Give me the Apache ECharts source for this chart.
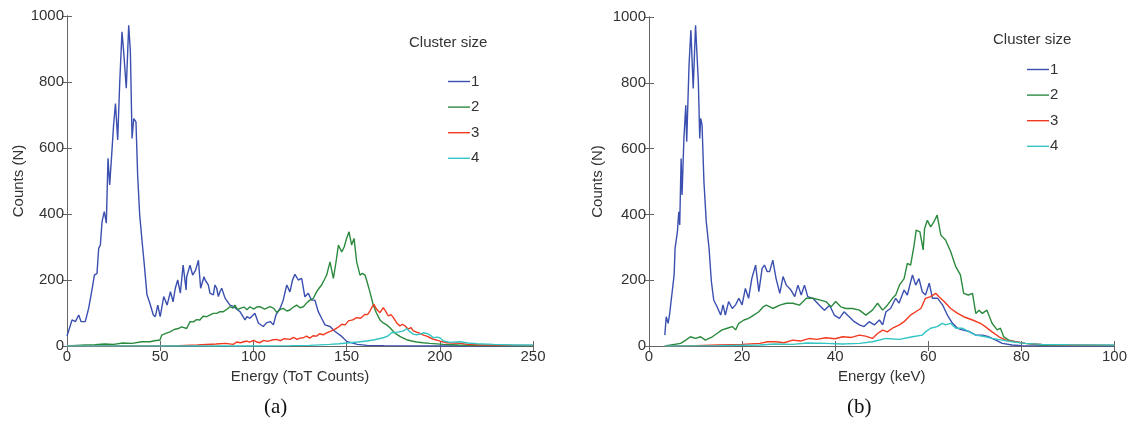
<!DOCTYPE html>
<html>
<head>
<meta charset="utf-8">
<script src="https://cdn.jsdelivr.net/npm/echarts@6/dist/echarts.min.js"></script>
<style>
html,body{margin:0;padding:0;background:#fff;}
#c{width:1130px;height:425px;}
</style>
</head>
<body>
<div id="c"></div>
<script>
// ---------- DATA ----------
const seriesNames = ['1', '2', '3', '4'];
const leftXTicks = [0, 50, 100, 150, 200, 250];
const rightXTicks = [0, 20, 40, 60, 80, 100];
const yTicks = [0, 200, 400, 600, 800, 1000];

// (a) Energy in ToT counts
const leftBlueX = [0,0.9,2.7,4.5,6.3,7.5,9.8,11.6,13.4,14.7,16.1,17,17.9,18.8,20,21.1,22,22.9,24.2,25,26,27.2,28.3,29.5,30.4,31.8,33.1,34,34.9,35.8,37,37.9,39,40.3,41.5,42.9,44.5,46.3,47.4,48.7,50,51.9,53.7,55.5,56.9,58.1,59.4,60.8,62.3,63.9,64.2,66,67.4,69,70.5,71.7,73.5,74.1,75.8,76.7,78.5,79.4,80.3,81.2,82.1,83,84.8,85.7,87.4,89.3,90.1,92.8,95.5,96.5,98.2,100.8,102.7,103.5,105.3,107,108,109,110.7,112.1,114.3,116,117.9,119.6,121,122.3,124.1,125.9,127.6,129.4,131.2,133,134.8,136.6,138.4,141.1,143.8,147.4,150,155.7,161,170,200,250];
const leftBlueY = [30,33,79,74,94,74,74,114,170,215,220,296,306,377,407,372,569,488,599,670,735,624,801,952,892,781,972,892,629,689,679,518,397,316,245,155,129,94,89,124,89,150,124,165,134,175,200,160,245,170,210,245,215,230,260,175,210,200,185,160,155,185,175,150,165,175,145,140,124,120,119,104,79,89,84,99,69,69,59,70,69,74,64,94,114,139,185,164,200,217,200,205,149,160,139,139,104,84,64,59,44,29,14,5,2,1,0,0];

const leftGreenX = [0,5,10,15,20,25,30,35,40,44.5,47,49.9,50.8,53,55.3,57.5,59.7,61.5,62.4,64.2,66,67.8,69.5,71.3,73,74.9,75.8,78.5,80.3,82.1,83.9,86,87.4,89,90.1,91.5,92.8,95,96.5,98.2,100,101.8,103.5,106,108.9,110.9,112.5,114.2,116,118,119.6,121.5,123.2,125,126.8,128.5,130.3,132.1,133.9,135.2,136.6,138,139.3,141.1,142.9,144.2,145.6,147.4,148.7,150,151.3,152.7,154,155.4,157.2,158.5,159.9,161.2,162.5,164.3,166,167.9,169.7,171.5,173.3,175.1,176.9,178.6,180.4,182.2,184.9,187.6,191,194.7,201.9,210,225,250];
const leftGreenY = [0,2,3,4,6,5,9,8,13,13,16,18,33,38,43,50,53,58,64,53,74,73,80,79,90,89,94,99,99,104,104,112,119,115,124,110,114,118,110,119,112,118,119,112,119,114,102,110,114,106,109,118,124,116,119,130,139,144,164,175,185,200,215,255,205,250,306,285,300,326,346,306,326,255,215,220,215,190,164,124,100,79,70,64,55,44,35,29,24,19,15,12,10,8,5,3,1,0];

const leftRedX = [0,40,60,70,80,85,89.2,91,93,96.4,98,100,101.5,103.5,105.5,107.5,110,111,112.5,114.5,116.5,119.6,121.5,123.5,125,126.8,128.5,130.3,132,133.9,135.5,137.4,139.3,141.5,143.8,145.5,147.4,149.2,151,153.3,155.4,157.5,159.9,161.2,162.5,163.6,164.7,165.3,166.1,167.9,169.7,171,172.4,173.8,175.1,176.9,178.6,180,181.3,183.1,184.5,185.8,187.6,189.4,191.2,193,194.8,196.6,198.4,200.1,202,203.7,207,211,215,220,230,240,250];
const leftRedY = [0,0,1,3,6,8,5,12,10,15,12,17,13,10,17,14,18,23,20,16,22,20,26,20,24,25,30,24,31,30,37,34,40,45,51,57,66,64,76,79,86,84,96,95,106,118,126,131,111,101,116,105,91,95,86,70,61,66,61,51,56,46,42,38,33,30,25,20,18,15,12,10,9,8,5,4,3,2,1];

const leftCyanX = [0,100,120,130,141,146,151.8,156,160.8,165,169.7,172,174.2,175.1,177.5,180.5,182.3,183.5,185.8,187.6,189.4,191.2,193,194.8,196.6,198.5,200,202,205.5,210.8,215,220,228.7,240,250];
const leftCyanY = [0,0,1,2,5,7,10,12,15,19,25,30,40,36,42,46,53,45,36,34,36,40,38,33,25,27,25,15,11,13,9,7,5,3,3];

// (b) Energy in keV
const rightBlueX = [3.4,3.7,4.1,4.4,4.9,5.4,5.6,6.1,6.4,6.6,6.9,7.1,7.5,7.9,8.1,8.6,9,9.5,10,10.6,10.9,11.1,11.4,11.8,12.3,12.9,13.4,13.9,14.6,15.4,15.9,16.4,17.1,17.9,18.6,19.3,20,20.7,21.4,22.1,22.9,23.6,24.3,24.8,25.4,25.9,26.6,27.3,28.1,28.8,29.5,30.5,31.3,32,32.7,33.4,34.1,35.2,36.6,37.7,38.8,39.8,40.9,41.9,43,44.1,45.2,46.2,47.3,48.4,49.5,50.2,50.9,51.9,53,53.7,54.8,55.5,56.6,57.3,58,58.7,59.4,60.2,60.9,62,63.1,64.1,65.2,66.3,67.3,68.8,70.2,71.6,73,74.5,75.9,78,80,85,100];
const rightBlueY = [33,89,69,94,155,216,297,347,408,368,570,459,631,732,621,854,960,783,975,803,631,692,672,499,378,297,196,140,120,94,125,94,135,114,125,145,125,175,145,206,246,165,236,246,226,226,261,205,160,211,185,170,150,185,155,185,150,145,124,109,124,94,84,104,89,74,64,59,74,64,79,64,104,114,145,130,170,155,216,185,205,165,155,191,145,145,124,94,69,54,49,44,33,33,28,18,8,3,1,0,0];

const rightGreenX = [3.4,6.8,7.9,8.9,10,11.1,12.1,13.6,14.6,15.7,16.8,17.9,18.6,19.3,20.4,21.4,22.5,23.6,24.6,25.2,26.6,28.1,29.5,30.9,32.3,33.8,35.2,36.6,38,39.1,40.1,41.2,42.3,43.7,45.2,46.6,48,49.1,50.2,51.2,52.3,53,53.8,54.8,55.5,56.2,56.9,57.4,58.2,58.9,59.2,59.8,60.5,61.2,61.9,62.7,63.7,64.8,65.9,66.9,67.6,68.6,69.5,70.2,70.9,71.6,72.6,73.7,74.8,75.5,76.2,77.3,78.7,80.8,84.4,100];
const rightGreenY = [0,8,18,28,23,28,18,28,38,49,54,59,49,69,79,84,94,104,120,124,114,124,130,130,124,145,145,140,135,119,135,119,114,114,109,94,109,130,109,124,145,155,185,205,251,246,302,352,347,292,357,382,362,377,398,337,322,287,241,216,160,155,160,99,109,99,109,69,49,54,28,18,13,8,3,1];

const rightRedX = [3.4,10,15,20,23.8,25.5,27.3,29,30.9,32.5,34.5,36,38,40,41.6,43.5,45.2,46.5,48,49.1,50.2,51.2,52.3,53.8,54.8,56.2,57.3,58.4,59.4,60.5,61.6,62.3,63.4,64.8,66.3,67.6,69.5,71.2,72.3,73.7,75.2,76.6,78.7,80.8,84.4,90,100];
const rightRedY = [0,1,3,5,8,13,13,10,18,15,23,20,25,22,28,26,33,30,23,38,48,43,54,64,74,94,104,114,145,150,160,150,135,114,99,89,79,69,58,43,28,18,13,8,5,3,2];

const rightCyanX = [3.4,15,23.8,27,30.9,34,38,41.5,45.2,48,50.9,53.8,56.6,58.7,59.4,60.5,61.9,63,63.7,64.8,65.9,67.3,68.8,70.2,72.3,73.7,75.9,78,80.8,84.4,90,100];
const rightCyanY = [0,1,3,6,5,9,8,6,8,13,23,20,28,33,43,54,59,69,64,69,54,54,43,33,28,23,18,13,8,5,4,3];

// ---------- STYLE ----------
const colors = ['#3a4fb0', '#2b8a3e', '#f23a20', '#33c4c4'];
const axisColor = '#666';
const labelColor = '#333';
const font = 'Liberation Sans, Arial, Helvetica, sans-serif';

function zip(xs, ys) { return xs.map((x, i) => [x, ys[i]]); }
const plain = v => String(v);

const grids = [
  { left: 67, top: 16, width: 466, height: 330 },
  { left: 649, top: 17, width: 467, height: 329 }
];

function xAxes(gi, max, interval, name) {
  return [
    {
      type: 'value', gridIndex: gi, min: 0, max: max, interval: interval,
      name: name, nameLocation: 'middle', nameGap: 18,
      nameTextStyle: { color: labelColor, fontSize: 15, fontFamily: font },
      axisLine: { lineStyle: { color: axisColor, width: 1 } },
      axisTick: { inside: true, length: 5, lineStyle: { color: axisColor } },
      axisLabel: { color: labelColor, fontSize: 15, fontFamily: font, margin: 3, formatter: plain },
      splitLine: { show: false }
    },
    {
      type: 'value', gridIndex: gi, min: 0, max: max, interval: interval, position: 'top',
      axisLine: { lineStyle: { color: axisColor, width: 1 } },
      axisTick: { inside: true, length: 5, lineStyle: { color: axisColor } },
      axisLabel: { show: false }, splitLine: { show: false }
    }
  ];
}
function yAxes(gi, nameGap) {
  return [
    {
      type: 'value', gridIndex: gi, min: 0, max: 1000, interval: 200,
      name: 'Counts (N)', nameLocation: 'middle', nameGap: nameGap,
      nameTextStyle: { color: labelColor, fontSize: 15, fontFamily: font },
      axisLine: { show: true, lineStyle: { color: axisColor, width: 1 } },
      axisTick: { show: true, inside: true, length: 5, lineStyle: { color: axisColor } },
      axisLabel: { color: labelColor, fontSize: 15, fontFamily: font, margin: 3, formatter: plain },
      splitLine: { show: false }
    },
    {
      type: 'value', gridIndex: gi, min: 0, max: 1000, interval: 200, position: 'right',
      axisLine: { show: true, lineStyle: { color: axisColor, width: 1 } },
      axisTick: { show: true, inside: true, length: 5, lineStyle: { color: axisColor } },
      axisLabel: { show: false }, splitLine: { show: false }
    }
  ];
}

const leftData = [zip(leftBlueX, leftBlueY), zip(leftGreenX, leftGreenY), zip(leftRedX, leftRedY), zip(leftCyanX, leftCyanY)];
const rightData = [zip(rightBlueX, rightBlueY), zip(rightGreenX, rightGreenY), zip(rightRedX, rightRedY), zip(rightCyanX, rightCyanY)];

const series = [];
[leftData, rightData].forEach((set, gi) => {
  set.forEach((d, i) => {
    series.push({
      name: seriesNames[i], type: 'line', data: d,
      xAxisIndex: gi * 2, yAxisIndex: gi * 2,
      symbol: 'none', smooth: false, animation: false,
      lineStyle: { color: colors[i], width: 1.4 },
      itemStyle: { color: colors[i] }
    });
  });
});

function legend(left, top) {
  return {
    data: seriesNames, orient: 'vertical', left: left, top: top,
    itemWidth: 22, itemHeight: 14, itemGap: 10.6,
    selectedMode: false,
    textStyle: { color: labelColor, fontSize: 15, fontFamily: font, padding: [0, 0, 0, -4] },
    icon: 'path://M0,6.3 L22,6.3 L22,7.7 L0,7.7 Z'
  };
}

const option = {
  backgroundColor: '#fff',
  animation: false,
  color: colors,
  grid: grids,
  xAxis: [].concat(xAxes(0, 250, 50, 'Energy (ToT Counts)'), xAxes(1, 100, 20, 'Energy (keV)')),
  yAxis: [].concat(yAxes(0, 41), yAxes(1, 44)),
  legend: [legend(443, 69), legend(1022, 57)],
  series: series,
  graphic: [
    { type: 'text', left: 409, top: 35, style: { text: 'Cluster size', fill: labelColor, font: '15px ' + font } },
    { type: 'text', left: 993, top: 32, style: { text: 'Cluster size', fill: labelColor, font: '15px ' + font } },
    { type: 'text', left: 264, top: 397, style: { text: '(a)', fill: '#111', font: '21px Liberation Serif, Times New Roman, serif' } },
    { type: 'text', left: 847, top: 397, style: { text: '(b)', fill: '#111', font: '21px Liberation Serif, Times New Roman, serif' } }
  ]
};

const chart = echarts.init(document.getElementById('c'), null, { renderer: 'canvas' });
chart.setOption(option);
</script>
</body>
</html>
